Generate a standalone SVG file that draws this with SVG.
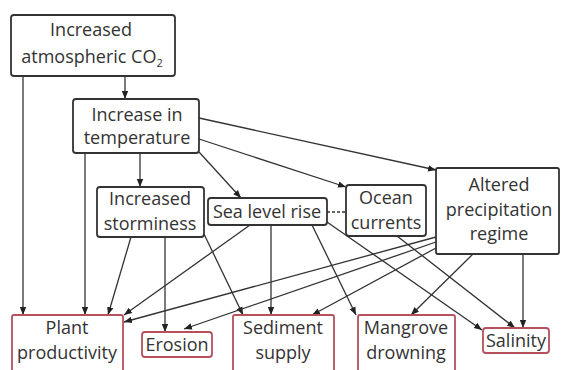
<svg xmlns="http://www.w3.org/2000/svg" width="561" height="370" viewBox="0 0 561 370">
<defs>
<marker id="ah" viewBox="0 0 10 10" refX="10" refY="5" markerWidth="8" markerHeight="8" markerUnits="userSpaceOnUse" orient="auto">
<path d="M0,1 L10,5 L0,9 z" fill="#222"/>
</marker>
<style>
.b{fill:#fff;stroke:#333;stroke-width:1.8}
.r{fill:#fff;stroke:#b5505c;stroke-width:1.8}
text{font-family:"Open Sans","Noto Sans",sans-serif;font-size:18px;fill:#333;text-anchor:middle}
.c line{stroke:#333;stroke-width:1.3;marker-end:url(#ah)}
.c line.d{stroke-dasharray:3 2;marker-end:none}
</style>
</defs>
<rect width="561" height="370" fill="#fff"/>
<g class="c" id="connectors">
<line x1="125" y1="76" x2="125" y2="99"/>
<line x1="23" y1="76" x2="23" y2="315"/>
<line x1="85" y1="153" x2="85" y2="315"/>
<line x1="140" y1="153" x2="140" y2="187"/>
<line x1="199" y1="152" x2="241" y2="198"/>
<line x1="199" y1="118" x2="436" y2="170"/>
<line x1="199" y1="139" x2="346" y2="187"/>
<line x1="131" y1="237" x2="108" y2="315"/>
<line x1="165" y1="237" x2="165" y2="332"/>
<line x1="204" y1="234" x2="243" y2="315"/>
<line x1="250" y1="225" x2="124" y2="315"/>
<line x1="271" y1="225" x2="271" y2="315"/>
<line x1="312" y1="225" x2="356" y2="315"/>
<line x1="327" y1="222" x2="482" y2="330"/>
<line class="d" x1="327" y1="212" x2="346" y2="212"/>
<line x1="397" y1="236" x2="515" y2="328"/>
<line x1="523" y1="254" x2="523" y2="328"/>
<line x1="473" y1="254" x2="411" y2="315"/>
<line x1="436" y1="237" x2="124" y2="322"/>
<line x1="436" y1="242" x2="184" y2="329"/>
<line x1="436" y1="248" x2="312" y2="315"/>
</g>
<g id="co2">
<rect class="b" x="11" y="15" width="164" height="61" rx="3"/>
<text x="91" y="36">Increased</text>
<text x="92" y="63">atmospheric CO<tspan font-size="11" dy="4">2</tspan></text>
</g>
<g id="temperature">
<rect class="b" x="73" y="99" width="126" height="54" rx="3"/>
<text x="137" y="121">Increase in</text>
<text x="137" y="144">temperature</text>
</g>
<g id="storminess">
<rect class="b" x="97" y="187" width="107" height="50" rx="3"/>
<text x="150" y="205">Increased</text>
<text x="150" y="230">storminess</text>
</g>
<g id="sealevel">
<rect class="b" x="208" y="198" width="119" height="27" rx="3"/>
<text x="267" y="218">Sea level rise</text>
</g>
<g id="ocean">
<rect class="b" x="346" y="185" width="80" height="51" rx="3"/>
<text x="386" y="204">Ocean</text>
<text x="386" y="229">currents</text>
</g>
<g id="precipitation">
<rect class="b" x="436" y="168" width="123" height="86" rx="2"/>
<text x="499" y="191">Altered</text>
<text x="499" y="216">precipitation</text>
<text x="499" y="240">regime</text>
</g>
<g id="plant">
<rect class="r" x="12" y="315" width="111" height="60" rx="2"/>
<text x="67" y="334">Plant</text>
<text x="67" y="359">productivity</text>
</g>
<g id="erosion">
<rect class="r" x="142" y="332" width="70" height="25" rx="3"/>
<text x="177" y="351">Erosion</text>
</g>
<g id="sediment">
<rect class="r" x="233" y="315" width="101" height="60" rx="2"/>
<text x="283" y="334">Sediment</text>
<text x="283" y="359">supply</text>
</g>
<g id="mangrove">
<rect class="r" x="358" y="315" width="97" height="60" rx="2"/>
<text x="406" y="334">Mangrove</text>
<text x="406" y="359">drowning</text>
</g>
<g id="salinity">
<rect class="r" x="483" y="328" width="66" height="25" rx="3"/>
<text x="516" y="347">Salinity</text>
</g>
</svg>
